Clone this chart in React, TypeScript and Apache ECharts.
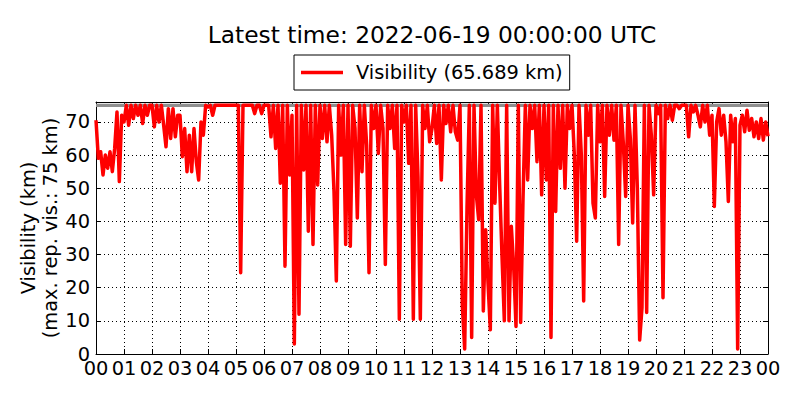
import React, { useEffect, useRef } from "react";
import * as echarts from "echarts";

// Visibility samples (km), one value every 5 minutes
const stepMinutes = 5;
const visHours00to05 = [
  70.5, 59, 61, 54, 60, 56, 61, 55, 62, 73, 52, 72,
  70, 75, 69, 75, 71, 75, 72, 75, 69.5, 75, 72, 75,
  75, 68.5, 75, 70, 75, 69, 62.5, 74, 65, 74, 65.5, 72,
  72, 59.5, 68, 55, 66, 55, 68, 58, 52.5, 70, 66, 75,
  74.5, 75, 72, 75, 75, 75, 75, 75, 75, 75, 75, 75,
  75, 75, 24.5, 75, 75, 75, 75, 75, 72.5, 75, 75, 72.5,
];
const visHours06to11 = [
  75, 75, 75, 65.5, 75, 62, 75, 51.5, 75, 26.5, 75, 54,
  72, 3, 75, 12, 75, 55.5, 75, 37, 75, 33, 75, 51,
  75, 65, 75, 64, 75, 66, 49, 22, 75, 60, 75, 33,
  75, 32.5, 75, 68, 41, 75, 55, 75, 63, 24.5, 75, 68,
  75, 60.5, 75, 68, 27, 75, 68, 75, 62, 75, 10.5, 75,
  70, 75, 57.5, 75, 10.5, 75, 53.5, 10.5, 75, 68, 75, 64,
];
const visHours12to17 = [
  68, 75, 63.5, 75, 52.5, 75, 69.5, 75, 67, 75, 67, 64.5,
  75, 14.5, 1.5, 44, 75, 5, 75, 48, 40.5, 75, 13, 37.5,
  21.5, 7.3, 75, 45.5, 75, 51, 29.5, 10, 75, 10, 38.5, 26.5,
  8.3, 75, 9.5, 46.5, 75, 52.5, 75, 68, 75, 58, 75, 48,
  75, 52.5, 75, 5, 75, 43, 75, 56, 75, 50, 75, 68,
  75, 60, 34, 75, 60, 16, 75, 66, 75, 45.5, 41, 75,
];
const visHours18to23 = [
  64, 75, 47.5, 75, 66, 75, 64.5, 75, 33, 75, 63.5, 47.5,
  75, 65, 39.5, 75, 50, 4.2, 14, 75, 12.5, 75, 66, 48,
  75, 72.5, 75, 17, 75, 71, 75, 70.5, 75, 75, 74, 75,
  75, 75, 65.5, 75, 73, 75, 72, 68.5, 75, 70, 75, 66,
  72, 44.5, 70, 74, 66, 72, 64, 46, 72, 64, 71, 1.5,
  69, 72, 67, 73.5, 67.5, 71, 65.5, 70, 65, 71, 64.5, 70,
];
const latestVisibility = 65.689;
const maxReportedVis = 75;
const hourTickLabels = [
  "00", "01", "02", "03", "04", "05", "06", "07", "08", "09", "10", "11",
  "12", "13", "14", "15", "16", "17", "18", "19", "20", "21", "22", "23", "00",
];
const titleText = "Latest time: 2022-06-19 00:00:00 UTC";
const yNameLine1 = "Visibility (km)";
const yNameLine2 = "(max. rep. vis.: 75 km)";

const FONT = "DejaVu Sans";

export default function App() {
  const ref = useRef<HTMLDivElement>(null);

  useEffect(() => {
    if (!ref.current) return;
    const chart = echarts.init(ref.current, undefined, { renderer: "svg" });

    const allVis = [
      ...visHours00to05,
      ...visHours06to11,
      ...visHours12to17,
      ...visHours18to23,
      latestVisibility,
    ];
    const visData = allVis.map((v, i) => [(i * stepMinutes) / 60, v]);
    const maxLine = [
      [0, maxReportedVis],
      [24, maxReportedVis],
    ];
    const seriesName = `Visibility (${latestVisibility} km)`;

    const dotted = { color: "#000", width: 1, type: [1, 3] as any };
    const border = { show: true, onZero: false, lineStyle: { color: "#000", width: 1 } };
    const inTicks = { show: true, inside: true, length: 5, lineStyle: { color: "#000" } };

    chart.setOption({
      animation: false,
      backgroundColor: "#fff",
      textStyle: { fontFamily: FONT },
      grid: { left: 96, right: 32, top: 102, bottom: 46 },
      legend: {
        data: [seriesName],
        left: 294,
        top: 55,
        padding: [8, 7, 8, 7],
        icon: "rect",
        itemWidth: 42,
        itemHeight: 3.5,
        borderColor: "#000",
        borderWidth: 1,
        borderRadius: 0,
        selectedMode: false,
        textStyle: {
          fontFamily: FONT,
          fontSize: 19.4,
          color: "#000",
          padding: [0, 0, 0, 8],
        },
      },
      xAxis: [
        {
          type: "value",
          min: 0,
          max: 24,
          interval: 1,
          position: "bottom",
          axisLine: border,
          axisTick: inTicks,
          axisLabel: {
            show: true,
            showMinLabel: true,
            showMaxLabel: true,
            margin: 5,
            fontSize: 19.4,
            fontFamily: FONT,
            color: "#000",
            formatter: (v: number) => hourTickLabels[Math.round(v)] ?? "",
          },
          splitLine: { show: true, lineStyle: dotted },
        },
        {
          type: "value",
          min: 0,
          max: 24,
          interval: 1,
          position: "top",
          axisLine: border,
          axisTick: inTicks,
          axisLabel: { show: false },
          splitLine: { show: false },
        },
      ],
      yAxis: [
        {
          type: "value",
          min: 0,
          max: 76,
          interval: 10,
          position: "left",
          axisLine: border,
          axisTick: inTicks,
          axisLabel: {
            margin: 6,
            fontSize: 19.4,
            fontFamily: FONT,
            color: "#000",
            formatter: (v: number) => (v % 10 === 0 ? String(v) : ""),
          },
          splitLine: { show: true, lineStyle: dotted },
        },
        {
          type: "value",
          min: 0,
          max: 76,
          interval: 10,
          position: "right",
          axisLine: border,
          axisTick: inTicks,
          axisLabel: { show: false },
          splitLine: { show: false },
        },
      ],
      graphic: [
        {
          type: "text",
          x: 432,
          y: 34,
          style: {
            text: titleText,
            fontFamily: FONT,
            fontSize: 23.3,
            fill: "#000",
            textAlign: "center",
            textVerticalAlign: "middle",
          },
        },
        {
          type: "text",
          x: 28.5,
          y: 228,
          rotation: Math.PI / 2,
          style: {
            text: yNameLine1,
            fontFamily: FONT,
            fontSize: 19.4,
            fill: "#000",
            textAlign: "center",
            textVerticalAlign: "middle",
          },
        },
        {
          type: "text",
          x: 50,
          y: 228,
          rotation: Math.PI / 2,
          style: {
            text: yNameLine2,
            fontFamily: FONT,
            fontSize: 19.4,
            fill: "#000",
            textAlign: "center",
            textVerticalAlign: "middle",
          },
        },
      ],
      series: [
        {
          type: "line",
          name: "max. reported visibility",
          data: maxLine,
          symbol: "none",
          silent: true,
          z: 1,
          lineStyle: { color: "#8f8f8f", width: 3.2 },
        },
        {
          type: "line",
          name: seriesName,
          data: visData,
          symbol: "none",
          showSymbol: false,
          z: 2,
          itemStyle: { color: "#ff0000" },
          lineStyle: { color: "#ff0000", width: 3.5, join: "round" },
        },
      ],
    });

    return () => chart.dispose();
  }, []);

  return (
    <div
      ref={ref}
      style={{ position: "absolute", left: 0, top: 0, width: 800, height: 400 }}
    />
  );
}
